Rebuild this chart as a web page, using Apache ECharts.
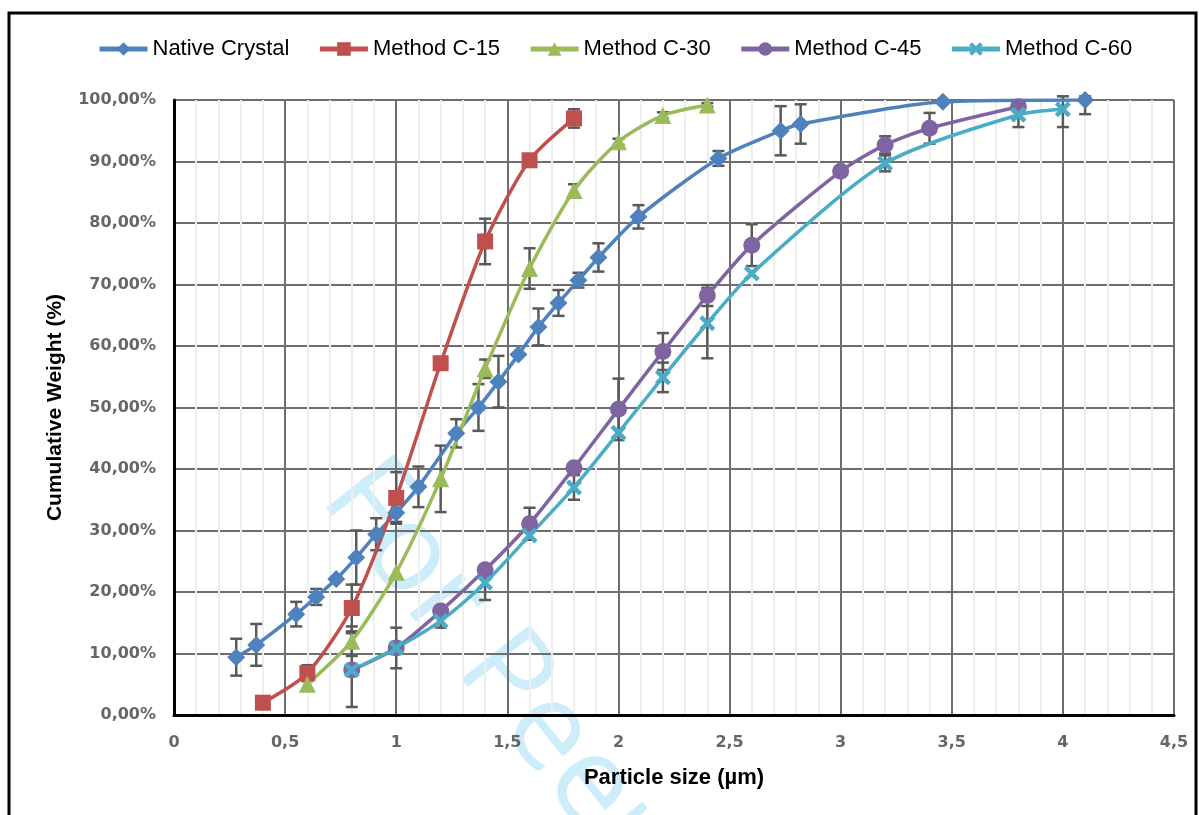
<!DOCTYPE html>
<html>
<head>
<meta charset="utf-8">
<script src="https://cdn.jsdelivr.net/npm/echarts@6/dist/echarts.min.js"></script>
<style>html,body{margin:0;padding:0;background:#fff}#c{width:1199px;height:815px}</style>
</head>
<body>
<div id="c"></div>
<script>
// ---- data ----
const seriesNames = ['Native Crystal', 'Method C-15', 'Method C-30', 'Method C-45', 'Method C-60'];

const nativeX   = [0.28, 0.37, 0.55, 0.64, 0.73, 0.82, 0.91, 1.00, 1.10, 1.27, 1.37, 1.46, 1.55, 1.64, 1.73, 1.82, 1.91, 2.09, 2.45, 2.73, 2.82, 3.46, 4.10];
const nativeY   = [9.4, 11.4, 16.4, 19.2, 22.1, 25.6, 29.4, 32.9, 37.1, 45.8, 50.0, 54.2, 58.6, 63.1, 67.0, 70.7, 74.4, 81.0, 90.5, 95.0, 96.1, 99.7, 100.0];
const nativeErr = [3.0, 3.4, 2.0, 1.3, 0, 4.4, 2.6, 1.5, 3.3, 2.3, 3.8, 4.2, 0, 3.0, 2.1, 1.2, 2.3, 1.9, 1.2, 4.0, 3.2, 0, 2.3];

const c15X   = [0.4, 0.6, 0.8, 1.0, 1.2, 1.4, 1.6, 1.8];
const c15Y   = [2.0, 6.8, 17.4, 35.3, 57.2, 77.0, 90.2, 97.0];
const c15Err = [0, 1.3, 3.8, 4.2, 1.0, 3.7, 0, 1.5];

const c30X   = [0.6, 0.8, 1.0, 1.2, 1.4, 1.6, 1.8, 2.0, 2.2, 2.4];
const c30Y   = [5.0, 12.0, 23.2, 38.4, 56.3, 72.6, 85.3, 93.2, 97.5, 99.2];
const c30Err = [0, 2.4, 0, 5.4, 1.5, 3.3, 1.0, 0.5, 0.5, 0.3];

const c45X   = [0.8, 1.0, 1.2, 1.4, 1.6, 1.8, 2.0, 2.2, 2.4, 2.6, 3.0, 3.2, 3.4, 3.8];
const c45Y   = [7.3, 10.9, 16.9, 23.6, 31.1, 40.2, 49.7, 59.1, 68.2, 76.4, 88.4, 92.7, 95.4, 98.9];
const c45Err = [0, 0, 0, 0, 2.6, 0, 5.0, 3.0, 1.7, 3.4, 0, 1.4, 2.5, 0];

const c60X   = [0.8, 1.0, 1.2, 1.4, 1.6, 1.8, 2.0, 2.2, 2.4, 2.6, 3.2, 3.8, 4.0];
const c60Y   = [7.3, 10.9, 15.3, 21.5, 29.2, 37.0, 45.9, 54.9, 63.7, 71.8, 89.7, 97.6, 98.5];
const c60Err = [6.0, 3.3, 1.1, 2.8, 0, 2.0, 0, 2.4, 5.7, 0, 1.3, 2.0, 2.9];

const xTicks = [0, 0.5, 1, 1.5, 2, 2.5, 3, 3.5, 4, 4.5];
const yTicks = [0, 10, 20, 30, 40, 50, 60, 70, 80, 90, 100];

// ---- build ----
const colors = ['#4f81bd', '#c0504d', '#9bbb59', '#8064a2', '#4bacc6'];
const xs = [nativeX, c15X, c30X, c45X, c60X];
const ys = [nativeY, c15Y, c30Y, c45Y, c60Y];
const errs = [nativeErr, c15Err, c30Err, c45Err, c60Err];
const xMarker = 'path://M2,0 L5,3 L8,0 L10,2 L7,5 L10,8 L8,10 L5,7 L2,10 L0,8 L3,5 L0,2 Z';
const symbols = ['diamond', 'rect', 'triangle', 'circle', xMarker];
const sizes = [18, 16, 17, 17, 16];

const errData = [];
xs.forEach((xa, s) => xa.forEach((x, i) => { if (errs[s][i] > 0) errData.push([x, ys[s][i], errs[s][i]]); }));

const lineSeries = seriesNames.map((n, s) => ({
  name: n, type: 'line', smooth: 0.25,
  data: xs[s].map((x, i) => [x, ys[s][i]]),
  symbol: symbols[s], symbolSize: sizes[s],
  lineStyle: { color: colors[s], width: 3.5 },
  itemStyle: { color: colors[s] },
  z: 3
}));

const errSeries = {
  type: 'custom', name: 'err', silent: true, z: 2,
  data: errData,
  renderItem: (params, api) => {
    const x = api.value(0), y = api.value(1), e = api.value(2);
    const top = api.coord([x, Math.min(y + e, 100.6)]);
    const bot = api.coord([x, y - e]);
    const hw = 6;
    const st = { stroke: '#595959', lineWidth: 2.5 };
    return { type: 'group', children: [
      { type: 'line', shape: { x1: top[0], y1: top[1], x2: bot[0], y2: bot[1] }, style: st },
      { type: 'line', shape: { x1: top[0] - hw, y1: top[1], x2: top[0] + hw, y2: top[1] }, style: st },
      { type: 'line', shape: { x1: bot[0] - hw, y1: bot[1], x2: bot[0] + hw, y2: bot[1] }, style: st }
    ]};
  },
  clip: false
};

const chart = echarts.init(document.getElementById('c'));
const labelFont = { color: '#666666', fontFamily: 'DejaVu Sans', fontSize: 16, fontWeight: 'bold' };
chart.setOption({
  animation: false,
  backgroundColor: '#fff',
  graphic: [
    { type: 'text', x: 298, y: 515, rotation: -0.9, z: -10, silent: true,
      style: { text: 'For Peer Review', font: '122px "Open Sans"', fill: '#cdedfb', textAlign: 'left', textVerticalAlign: 'bottom' } },
    { type: 'rect', shape: { x: 9, y: 13, width: 1187, height: 900 }, z: 100, silent: true,
      style: { fill: 'none', stroke: '#000', lineWidth: 3 } }
  ],
  legend: {
    left: 92, top: 33, itemWidth: 48, itemHeight: 17, itemGap: 28,
    data: seriesNames,
    lineStyle: { width: 5 },
    textStyle: { fontFamily: 'Liberation Sans', fontSize: 22, color: '#000' }
  },
  grid: { left: 174, right: 25, top: 100, bottom: 100, containLabel: false },
  xAxis: {
    type: 'value', min: 0, max: 4.5, interval: 0.5,
    name: 'Particle size (µm)', nameLocation: 'middle', nameGap: 52,
    nameTextStyle: { fontFamily: 'Liberation Sans', fontSize: 22, fontWeight: 'bold', color: '#000' },
    axisLine: { show: true, onZero: false, lineStyle: { color: '#000', width: 3 } },
    axisTick: { show: false },
    axisLabel: Object.assign({ margin: 20, formatter: v => String(v).replace('.', ',') }, labelFont),
    splitLine: { show: true, lineStyle: { color: '#6e6e6e', width: 2 } },
    minorTick: { show: false, splitNumber: 5 },
    minorSplitLine: { show: true, lineStyle: { color: '#eeeeee', width: 2 } }
  },
  yAxis: {
    type: 'value', min: 0, max: 100, interval: 10,
    name: 'Cumulative Weight (%)', nameLocation: 'middle', nameGap: 108,
    nameTextStyle: { fontFamily: 'Liberation Sans', fontSize: 21, fontWeight: 'bold', color: '#000' },
    axisLine: { show: true, lineStyle: { color: '#000', width: 3 } },
    axisTick: { show: false },
    axisLabel: Object.assign({ margin: 18, formatter: v => v + ',00%' }, labelFont),
    splitLine: { show: true, lineStyle: { color: '#6e6e6e', width: 2 } }
  },
  series: [errSeries].concat(lineSeries)
});
</script>
</body>
</html>
